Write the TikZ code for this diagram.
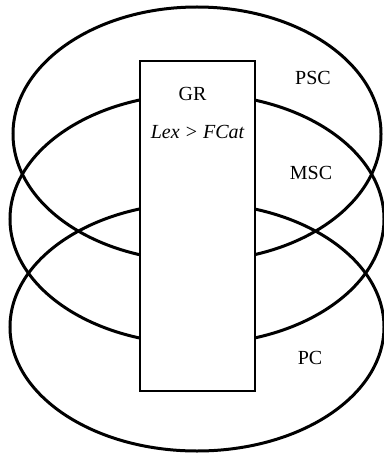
\documentclass[tikz,border=0pt]{standalone}
\usepackage{fontspec}
\setmainfont{Liberation Serif}
\begin{document}
\begin{tikzpicture}[x=1pt,y=-1pt,
  ring/.style={draw=black,line width=3pt},
  grbox/.style={draw=black,fill=white,line width=2.3pt},
  lbl/.style={font=\fontsize{20}{24}\selectfont,inner sep=0pt}]
\useasboundingbox (0,0) rectangle (383,454);
\draw[ring] (197,134) ellipse [x radius=184, y radius=127];
\draw[ring] (197,219) ellipse [x radius=187, y radius=125];
\draw[ring] (197,327) ellipse [x radius=187, y radius=124];
\node[grbox,minimum width=115pt,minimum height=330pt,inner sep=0pt] (gr) at (197.5,226) {};
\node[lbl] (grt) at (192.5,94) {GR};
\node[lbl] (lex) at (197.5,132) {\itshape Lex > FCat};
\node[lbl] (psc) at (313,78) {PSC};
\node[lbl] (msc) at (311,173) {MSC};
\node[lbl] (pc) at (310,358) {PC};
\end{tikzpicture}
\end{document}
